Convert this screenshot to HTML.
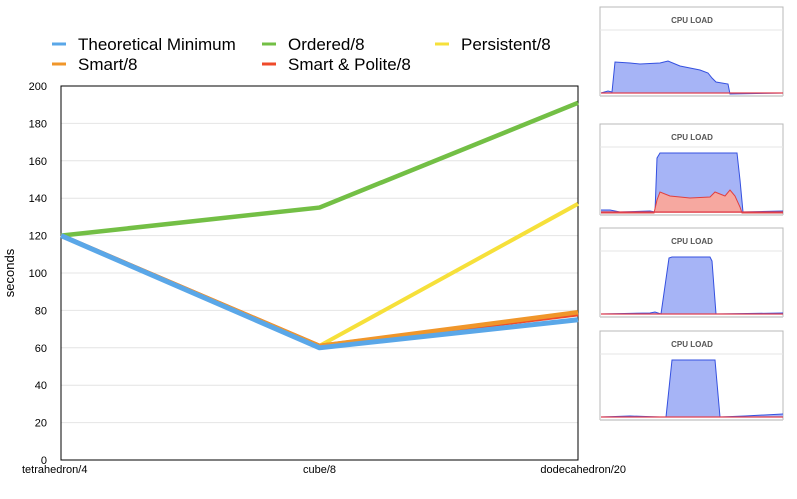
<!DOCTYPE html>
<html><head><meta charset="utf-8"><style>
body{margin:0;background:#fff;font-family:"Liberation Sans",sans-serif;}
svg{display:block}
</style></head><body>
<svg width="797" height="499">
<g id="legend"></g>
<g id="grid"></g>
<g id="axes"></g>
<g id="series"></g>
<text x="14" y="273" font-size="13" transform="rotate(-90 14 273)" text-anchor="middle">seconds</text>
<g id="thumbs"></g>
</svg>
<script>
const categories=["tetrahedron/4","cube/8","dodecahedron/20"];
const seriesNames=["Theoretical Minimum","Ordered/8","Persistent/8","Smart/8","Smart & Polite/8"];
const theoretical=[120,60,75];
const ordered=[120,135,191];
const persistent=[120,61,137];
const smart=[120,61,79];
const polite=[120,61,78];
const yTicks=[0,20,40,60,80,100,120,140,160,180,200];
const colors=["#5aa7e8","#73bf45","#f6e03a","#f0962a","#ef4a2a"];
const NS="http://www.w3.org/2000/svg";
function mk(t,a,p){const e=document.createElementNS(NS,t);for(const k in a)e.setAttribute(k,a[k]);p.appendChild(e);return e;}
const X0=61,X1=578,Y0=460,Y1=86;
const xs=i=>X0+(X1-X0)*i/(categories.length-1);
const ys=v=>Y0-(Y0-Y1)*v/200;
const grid=document.getElementById('grid'),axes=document.getElementById('axes'),ser=document.getElementById('series');
yTicks.forEach(t=>{
 const l=mk('line',{x1:X0,x2:X1,y1:ys(t),y2:ys(t),stroke:'#e4e4e4','stroke-width':1},grid);
 
 const tx=mk('text',{x:X0-14,y:ys(t)+4,'font-size':11,'text-anchor':'end'},axes);tx.textContent=t;
 
});
const r=mk('rect',{x:X0,y:Y1,width:X1-X0,height:Y0-Y1,fill:'none',stroke:'#000','stroke-width':1},axes);

categories.forEach((c,i)=>{
 const anc=i==0?'start':(i==categories.length-1?'end':'middle');
 const xx=i==0?22:(i==categories.length-1?626:xs(i));
 const tx=mk('text',{x:xx,y:473,'font-size':11,'text-anchor':anc},axes);tx.textContent=c;
 
});
const data=[theoretical,ordered,persistent,smart,polite];
[1,2,4,3,0].forEach(k=>{
 const d=data[k].map((v,i)=>(i?'L':'M')+xs(i)+','+ys(v)).join('');
 const p=mk('path',{d:d,fill:'none',stroke:colors[k],'stroke-width':k==0?5:(k==2?4:4.5),'stroke-linejoin':'round'},ser);
 
});
const lg=document.getElementById('legend');
const lpos=[[52,50],[262,50],[435,50],[52,70],[262,70]];
const lorder=[0,1,2,3,4];
lorder.forEach((k,j)=>{
 const [x,y]=lpos[j];
 const ln=mk('line',{x1:x,x2:x+14,y1:y-6,y2:y-6,stroke:colors[k],'stroke-width':3},lg);
 
 const t=mk('text',{x:x+26,y:y,'font-size':17},lg);t.textContent=seriesNames[k];
 
});
const th=document.getElementById('thumbs');
const panels=[
 {top:7,bot:96,blue:[[601,93],[608,91],[612,92],[615,62],[630,63],[640,64],[660,63],[668,61],[680,66],[700,70],[708,73],[712,78],[716,82],[728,84],[730,94],[783,93]],red:null},
 {top:124,bot:215,blue:[[601,210],[610,210],[620,212],[650,211],[655,212],[657,158],[660,153],[737,153],[740,180],[743,212],[783,211]],red:[[601,213],[654,213],[657,200],[660,192],[670,196],[690,198],[710,197],[715,192],[725,196],[730,190],[735,196],[740,207],[742,213],[783,213]]},
 {top:228,bot:317,blue:[[601,314],[650,313],[655,312],[661,314],[669,258],[672,257],[710,257],[712,261],[716,314],[783,313]],red:null},
 {top:331,bot:420,blue:[[601,417],[630,416],[660,417],[666,417],[672,360],[715,360],[720,417],[745,416],[783,414]],red:null}
];
panels.forEach(p=>{
 const g=mk('g',{},th);
 const base=p.bot-3;
 mk('path',{d:`M600,${p.bot}L600,${p.top}L783,${p.top}L783,${p.bot}`,fill:'none',stroke:'#b8b8b8','stroke-width':1},g);
 mk('line',{x1:600,x2:783,y1:p.top+23,y2:p.top+23,stroke:'#e6e6e6'},g);
 const t=mk('text',{x:692,y:p.top+16,'font-size':8,'font-weight':'bold',fill:'#555','text-anchor':'middle'},g);t.textContent='CPU LOAD';
 
 const bp=p.blue.map((q,i)=>(i?'L':'M')+q[0]+','+q[1]).join('');
 mk('path',{d:bp+`L783,${base}L601,${base}Z`,fill:'#a6b4f6',stroke:'none'},g);
 mk('path',{d:bp,fill:'none',stroke:'#3450e0','stroke-width':1},g);
 if(p.red){const rp=p.red.map((q,i)=>(i?'L':'M')+q[0]+','+q[1]).join('');
  mk('path',{d:rp+'Z',fill:'#f6a8a0',stroke:'none'},g);
  mk('path',{d:rp,fill:'none',stroke:'#e04040','stroke-width':1},g);}
 mk('line',{x1:601,x2:783,y1:base,y2:base,stroke:'#e04050','stroke-width':1.2},g);
 mk('line',{x1:600,x2:783,y1:p.bot,y2:p.bot,stroke:'#ccc','stroke-width':1.5},g);
});
</script>
</body></html>
